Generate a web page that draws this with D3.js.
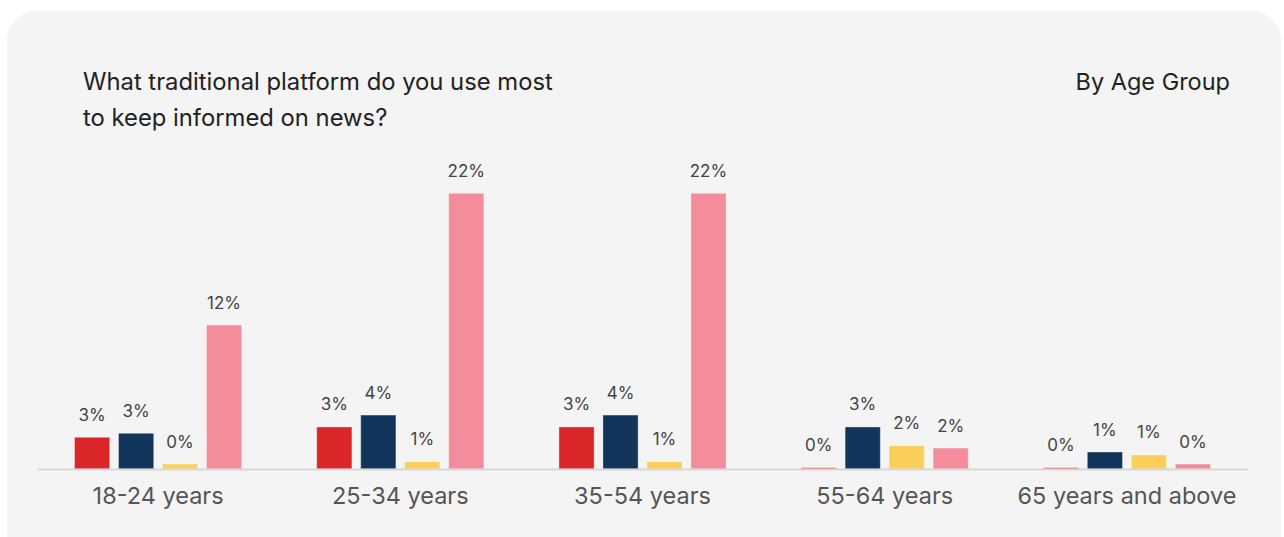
<!DOCTYPE html>
<html>
<head>
<meta charset="utf-8">
<script src="https://cdn.jsdelivr.net/npm/d3@7"></script>
<style>
  html, body { margin: 0; padding: 0; background: #ffffff; }
  svg { display: block; font-family: Inter, "Noto Sans", sans-serif; }
</style>
</head>
<body>
<svg id="chart" width="1284" height="537"></svg>
<script>
// Age groups along the x axis
const ageGroups = ["18-24 years", "25-34 years", "35-54 years", "55-64 years", "65 years and above"];

// Share of respondents (%) per traditional platform, one array per platform
const platformKeys = ["platform1", "platform2", "platform3", "platform4"];
const platform1 = [2.56, 3.39, 3.39, 0.1, 0.1];
const platform2 = [2.88, 4.35, 4.35, 3.39, 1.37];
const platform3 = [0.40, 0.59, 0.59, 1.88, 1.13];
const platform4 = [11.61, 22.23, 22.23, 1.69, 0.40];
const platformColors = ["#da2628", "#12355b", "#f9cf59", "#f38d9c"];

const titleLines = ["What traditional platform do you use most", "to keep informed on news?"];
const subtitle = "By Age Group";

const seriesValues = [platform1, platform2, platform3, platform4];
const rows = ageGroups.map((g, i) => ({
  group: g,
  values: platformKeys.map((k, j) => ({ key: k, value: seriesValues[j][i] }))
}));

const svg = d3.select("#chart");

// card background
svg.append("rect")
  .attr("x", 7).attr("y", 11)
  .attr("width", 1274).attr("height", 560)
  .attr("rx", 30).attr("ry", 30)
  .attr("fill", "#f4f4f4");

// title
const title = svg.append("text")
  .attr("x", 83).attr("y", 90)
  .attr("font-size", 23.8).attr("fill", "#222");
titleLines.forEach((line, i) => {
  title.append("tspan").attr("x", 83).attr("dy", i === 0 ? 0 : 36).text(line);
});

svg.append("text")
  .attr("x", 1230).attr("y", 90)
  .attr("text-anchor", "end")
  .attr("font-size", 23.5).attr("fill", "#222")
  .text(subtitle);

// scales
const baseline = 469;
const x0 = d3.scaleBand()
  .domain(ageGroups)
  .range([37, 1248])
  .paddingInner(0.31)
  .paddingOuter(0.155);

const x1 = d3.scaleBand()
  .domain(platformKeys)
  .range([0, x0.bandwidth()])
  .paddingInner(0.2)
  .paddingOuter(0);

const y = d3.scaleLinear()
  .domain([0, 24])
  .range([baseline, baseline - 24 * 12.4]);

const color = d3.scaleOrdinal().domain(platformKeys).range(platformColors);

// bars
const groups = svg.append("g")
  .selectAll("g")
  .data(rows)
  .join("g")
  .attr("transform", d => `translate(${x0(d.group)},0)`);

groups.selectAll("rect")
  .data(d => d.values)
  .join("rect")
  .attr("x", d => x1(d.key))
  .attr("y", d => y(d.value))
  .attr("width", x1.bandwidth())
  .attr("height", d => baseline - y(d.value))
  .attr("fill", d => color(d.key))
  .attr("stroke", "#ffffff")
  .attr("stroke-opacity", 0.35)
  .attr("stroke-width", 1);

// value labels
groups.selectAll("text")
  .data(d => d.values)
  .join("text")
  .attr("x", d => x1(d.key) + x1.bandwidth() / 2)
  .attr("y", d => y(d.value) - 16.5)
  .attr("text-anchor", "middle")
  .attr("font-size", 17)
  .attr("fill", "#444")
  .text(d => d3.format(".0f")(d.value) + "%");

// x axis
const xAxis = svg.append("g")
  .attr("transform", `translate(0,${baseline})`)
  .call(d3.axisBottom(x0).tickSize(0).tickPadding(0));
xAxis.select(".domain").attr("stroke", "#d8d8d8").attr("stroke-width", 2);
xAxis.selectAll(".tick text")
  .attr("dy", 0)
  .attr("y", 35)
  .attr("font-family", "Inter, 'Noto Sans', sans-serif")
  .attr("font-size", 23.5)
  .attr("fill", "#555");
</script>
</body>
</html>
